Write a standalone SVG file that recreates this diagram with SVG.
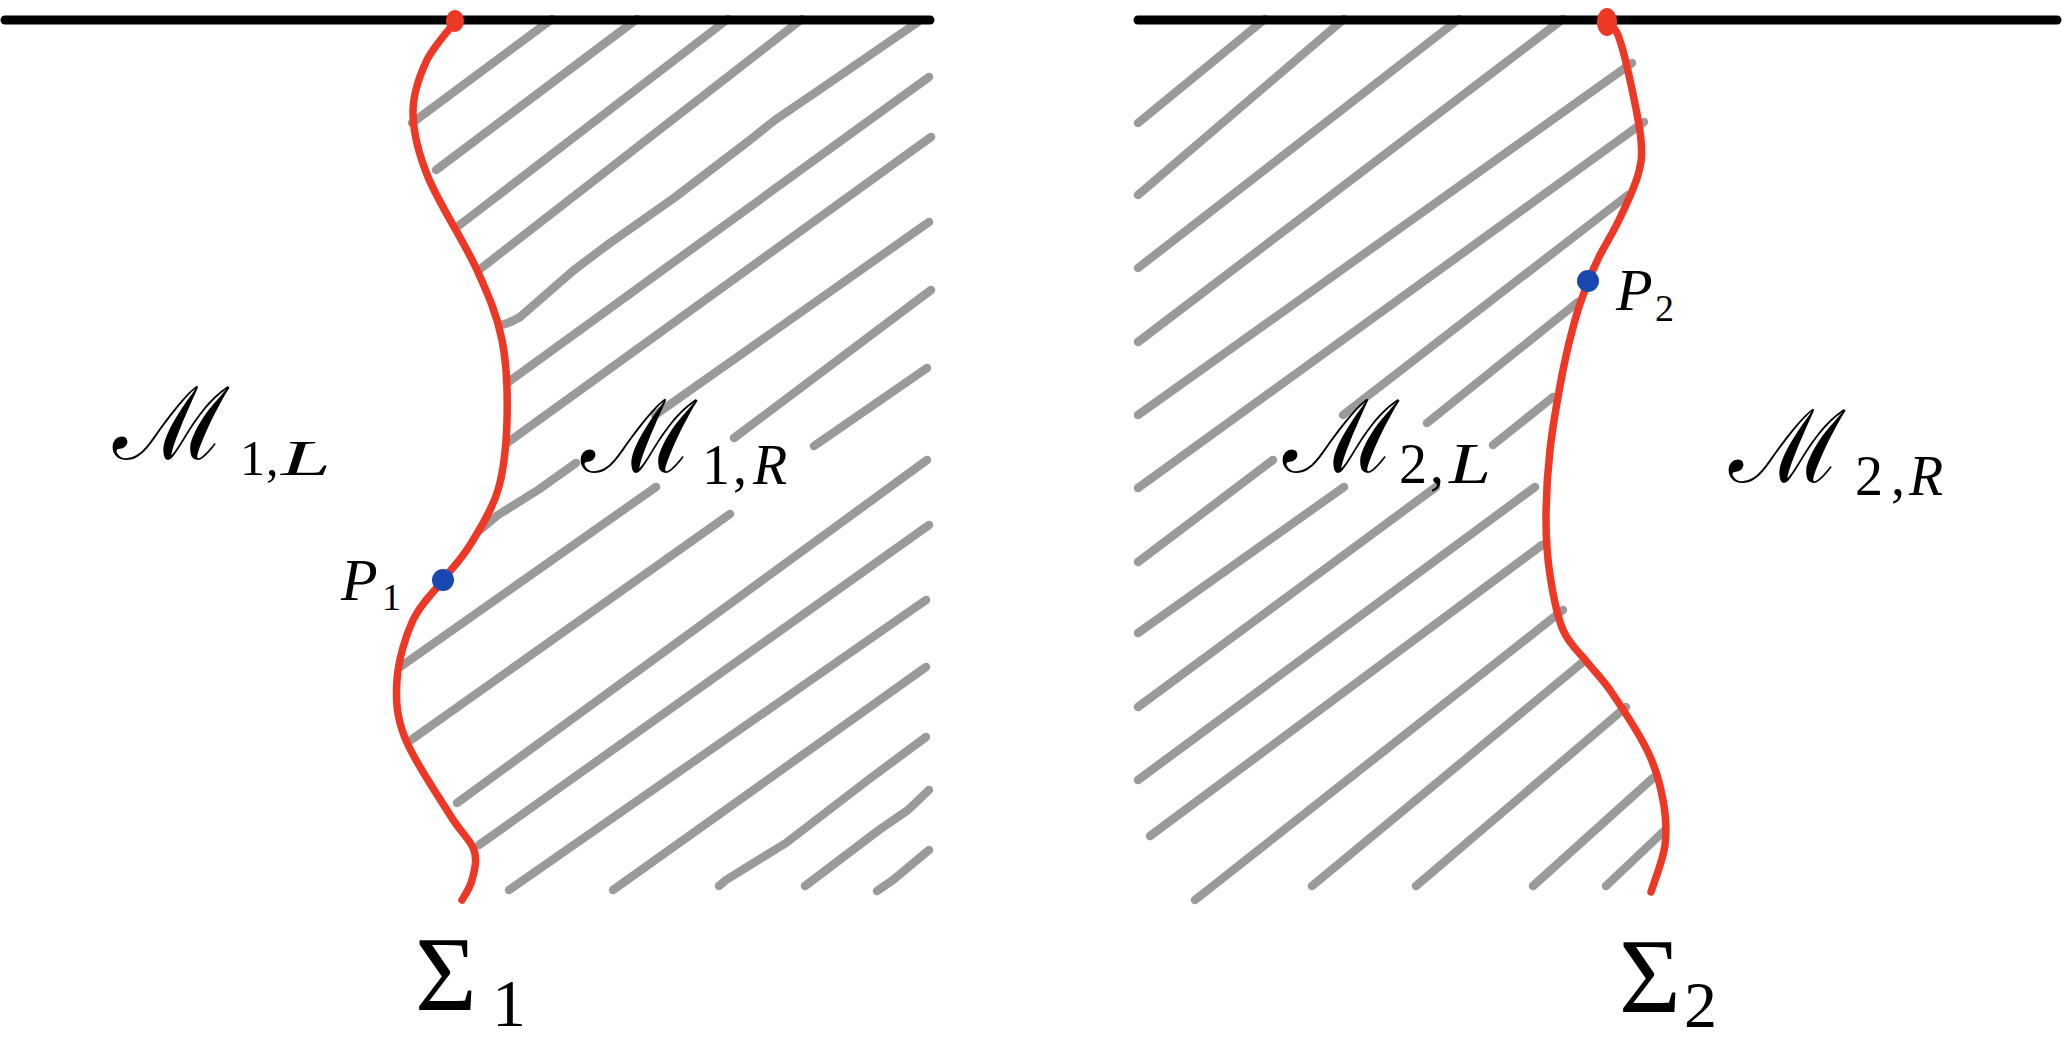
<svg xmlns="http://www.w3.org/2000/svg" width="2065" height="1040" viewBox="0 0 2065 1040">
<style>
.axis{stroke:#000;stroke-width:9;stroke-linecap:round;fill:none}
.hatch{stroke:#9a9a9a;stroke-width:8.5;stroke-linecap:round;stroke-linejoin:round;fill:none}
.iface{stroke:#ee3826;stroke-width:7.5;stroke-linecap:round;fill:none}
.pt{fill:#1848b0}
.it{font-style:italic}
.tx{font-family:"Liberation Serif","Times New Roman",serif;fill:#000}
.cal{font-size:101px}
.sub{font-size:56px}
</style>
<rect width="2065" height="1040" fill="#fff"/>
<g id="hatch-left" class="hatch">
<path d="M412,123L552,19"/>
<path d="M436,170L637,19"/>
<path d="M457,227L728,19"/>
<path d="M479,270L802,19"/>
<path d="M500,325Q508,324 520,317L574,270L610,243L674,198L750,140L775,120L822,88L918,22"/>
<path d="M507,383L929,77"/>
<path d="M507,443L931,137"/>
<path d="M655,415L929,222"/>
<path d="M734,438L931,290"/>
<path d="M814,446L927,368"/>
<path d="M480,530L498,515L538,490L576,463"/>
<path d="M400,667L656,487"/>
<path d="M411,740L730,514"/>
<path d="M457,803L927,460"/>
<path d="M479,845L929,525"/>
<path d="M509,890L926,600"/>
<path d="M613,890L926,667"/>
<path d="M719,886L726,880L786,843L868,780L926,737"/>
<path d="M805,886L879,830L908,810L929,790"/>
<path d="M877,891L893,880L929,850"/>
</g>
<g id="hatch-right" class="hatch">
<path d="M1138,123L1265,19"/>
<path d="M1138,195L1344,19"/>
<path d="M1138,268L1459,19"/>
<path d="M1138,342L1563,19"/>
<path d="M1138,415L1632,63"/>
<path d="M1138,488L1644,122"/>
<path d="M1343,415L1628,195"/>
<path d="M1427,423L1578,302"/>
<path d="M1493,445L1553,397"/>
<path d="M1138,562L1273,460"/>
<path d="M1138,633L1344,487"/>
<path d="M1138,707L1436,487"/>
<path d="M1138,780L1535,487"/>
<path d="M1150,836L1542,545"/>
<path d="M1195,900L1563,610"/>
<path d="M1312,886L1583,662"/>
<path d="M1416,886L1626,707"/>
<path d="M1533,886L1653,778"/>
<path d="M1606,886L1664,831"/>
</g>
<g id="boundary-lines" class="axis">
<path d="M5,20L930,20"/>
<path d="M1138,20L2057,20"/>
</g>
<g id="sigma1-curve">
<path class="iface" d="M455,22C450.2,28.7 433,46.8 426,62C419,77.2 412.7,93.8 413,113C413.3,132.2 417.3,150.8 428,177C438.7,203.2 464.7,242.8 477,270C489.3,297.2 497,315 502,340C507,365 507.7,395 507,420C506.3,445 504.2,469.2 498,490C491.8,510.8 479.2,530 470,545C460.8,560 452.5,567.5 443,580C433.5,592.5 420.7,603.3 413,620C405.3,636.7 398.3,660.3 397,680C395.7,699.7 396.2,715.5 405,738C413.8,760.5 438.5,796.3 450,815C461.5,833.7 470.3,839.2 474,850C477.7,860.8 474,871.7 472,880C470,888.3 463.7,896.7 462,900"/>
<ellipse cx="455" cy="21" rx="9" ry="11" fill="#ee3826"/>
</g>
<g id="sigma2-curve">
<path class="iface" d="M1607,22C1608.8,24.2 1614.2,25.3 1618,35C1621.8,44.7 1626.2,62.5 1630,80C1633.8,97.5 1639.7,124.2 1641,140C1642.3,155.8 1641.7,161.7 1638,175C1634.3,188.3 1625.3,206.7 1619,220C1612.7,233.3 1605.2,244.7 1600,255C1594.8,265.3 1592.2,271.2 1588,282C1583.8,292.8 1579.2,305.3 1575,320C1570.8,334.7 1567.2,348.3 1563,370C1558.8,391.7 1552.8,425 1550,450C1547.2,475 1546,499.2 1546,520C1546,540.8 1547.2,556.7 1550,575C1552.8,593.3 1556.8,615.5 1563,630C1569.2,644.5 1578.8,651.5 1587,662C1595.2,672.5 1601.8,678 1612,693C1622.2,708 1639.5,734.2 1648,752C1656.5,769.8 1660.2,784.5 1663,800C1665.8,815.5 1667,829.7 1665,845C1663,860.3 1653.3,884.2 1651,892"/>
<ellipse cx="1607" cy="22" rx="10" ry="14" fill="#ee3826"/>
</g>
<g id="P1">
<circle class="pt" cx="443" cy="580" r="11"/>
<text class="tx it" x="341" y="600" font-size="60">P</text>
<text class="tx" x="382" y="610" font-size="38">1</text>
</g>
<g id="P2">
<circle class="pt" cx="1588" cy="281" r="11"/>
<text class="tx it" x="1616" y="310" font-size="60">P</text>
<text class="tx" x="1655" y="321" font-size="38">2</text>
</g>
<g id="M1L">
<text class="tx cal" x="113" y="459">ℳ</text>
<text class="tx" x="240" y="475" font-size="50">1<tspan x="266">,</tspan><tspan class="it" x="281" textLength="50" lengthAdjust="spacingAndGlyphs">L</tspan></text>
</g>
<g id="M1R">
<text class="tx cal" x="581" y="472">ℳ</text>
<text class="tx sub" x="702" y="484">1<tspan x="733">,</tspan><tspan class="it" x="753">R</tspan></text>
</g>
<g id="M2L">
<text class="tx cal" x="1283" y="472">ℳ</text>
<text class="tx sub" x="1399" y="483">2<tspan x="1430">,</tspan><tspan class="it" x="1449" textLength="42" lengthAdjust="spacingAndGlyphs">L</tspan></text>
</g>
<g id="M2R">
<text class="tx cal" x="1729" y="482">ℳ</text>
<text class="tx sub" x="1855" y="495">2<tspan x="1891">,</tspan><tspan class="it" x="1909">R</tspan></text>
</g>
<g id="Sigma1">
<text class="tx" x="415" y="1010" font-size="106">Σ</text>
<text class="tx" x="492" y="1026" font-size="68">1</text>
</g>
<g id="Sigma2">
<text class="tx" x="1619" y="1012" font-size="106">Σ</text>
<text class="tx" x="1684" y="1027" font-size="66">2</text>
</g>
</svg>
